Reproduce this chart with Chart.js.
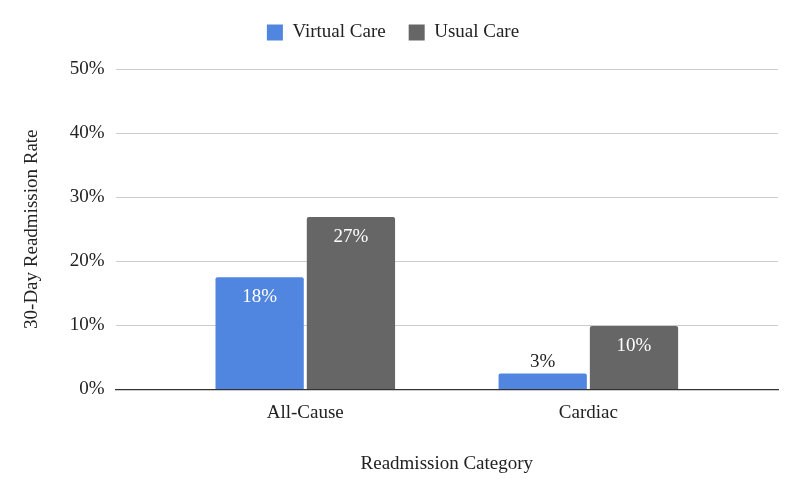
<!DOCTYPE html>
<html>
<head>
<meta charset="utf-8">
<script src="https://cdn.jsdelivr.net/npm/chart.js@4"></script>
<style>
  html, body { margin: 0; padding: 0; background: #fff; }
  #wrap { width: 800px; height: 492px; }
</style>
</head>
<body>
<div id="wrap"><canvas id="barChart"></canvas></div>
<script>
var categories = ["All-Cause", "Cardiac"];
var virtualCare = [17.5, 2.5];
var usualCare = [26.9, 9.9];
var yTicks = [0, 10, 20, 30, 40, 50];

var serif = "'Liberation Serif', 'Times New Roman', serif";
var fontSize = 19;

function points(values) {
  return values.map(function (v, i) { return { x: i, y: v }; });
}

// value labels on the bars, white inside tall bars, dark above short ones
var barLabels = {
  id: "barLabels",
  afterDatasetsDraw: function (chart) {
    var ctx = chart.ctx;
    ctx.save();
    ctx.font = fontSize + "px " + serif;
    ctx.textAlign = "center";
    ctx.textBaseline = "middle";
    chart.data.datasets.forEach(function (ds, di) {
      chart.getDatasetMeta(di).data.forEach(function (bar, i) {
        var txt = Math.round(ds.data[i].y) + "%";
        var h = bar.base - bar.y;
        if (h > 40) {
          ctx.fillStyle = "#ffffff";
          ctx.fillText(txt, bar.x, bar.y + 20);
        } else {
          ctx.fillStyle = "#222222";
          ctx.fillText(txt, bar.x, bar.y - 11);
        }
      });
    });
    ctx.restore();
  }
};

// a bit more room under the legend
var legendGap = {
  id: "legendGap",
  beforeInit: function (chart) {
    var fit = chart.legend.fit;
    chart.legend.fit = function () {
      fit.bind(chart.legend)();
      this.height += 17;
    };
  }
};

new Chart(document.getElementById("barChart"), {
  type: "bar",
  data: {
    datasets: [
      {
        label: "Virtual Care",
        data: points(virtualCare),
        backgroundColor: "#5085e0",
        borderRadius: 2,
        categoryPercentage: 0.645,
        barPercentage: 0.967
      },
      {
        label: "Usual Care",
        data: points(usualCare),
        backgroundColor: "#666666",
        borderRadius: 2,
        categoryPercentage: 0.645,
        barPercentage: 0.967
      }
    ]
  },
  options: {
    responsive: true,
    maintainAspectRatio: false,
    animation: false,
    layout: { padding: { top: 0, left: 8, right: 22, bottom: 13 } },
    plugins: {
      legend: {
        position: "top",
        labels: {
          font: { family: serif, size: fontSize },
          color: "#222",
          boxWidth: 16,
          boxHeight: 16,
          padding: 23
        }
      },
      tooltip: { enabled: false }
    },
    scales: {
      x: {
        type: "linear",
        offset: false,
        min: -0.67,
        max: 1.67,
        afterBuildTicks: function (scale) {
          scale.ticks = categories.map(function (c, i) { return { value: i }; });
        },
        ticks: {
          font: { family: serif, size: fontSize },
          color: "#222",
          padding: 12,
          callback: function (v) { return categories[v]; }
        },
        grid: { display: false, drawTicks: false },
        border: { color: "#333", width: 1.3 },
        title: {
          display: true,
          text: "Readmission Category",
          font: { family: serif, size: fontSize },
          color: "#222",
          padding: { top: 16, bottom: 4 }
        }
      },
      y: {
        min: 0,
        max: 50,
        afterBuildTicks: function (scale) {
          scale.ticks = yTicks.map(function (v) { return { value: v }; });
        },
        ticks: {
          font: { family: serif, size: fontSize },
          color: "#222",
          padding: 11,
          callback: function (v) { return v + "%"; }
        },
        grid: { color: "#cccccc", drawTicks: false },
        border: { display: false },
        title: {
          display: true,
          text: "30-Day Readmission Rate",
          font: { family: serif, size: fontSize },
          color: "#222",
          padding: { top: 13, bottom: 15 }
        }
      }
    }
  },
  plugins: [barLabels, legendGap]
});
</script>
</body>
</html>
